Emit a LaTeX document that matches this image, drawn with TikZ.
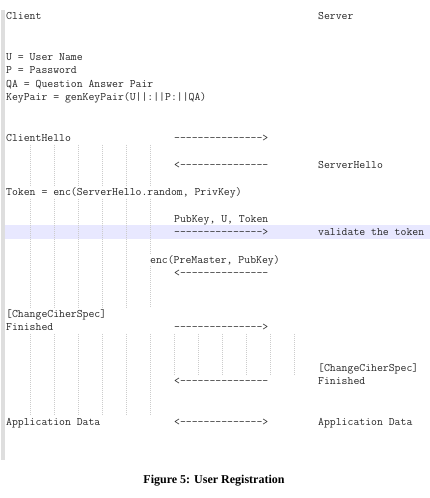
\documentclass[tikz,border=0pt]{standalone}
\usepackage{fontspec}
\setmainfont{Liberation Serif}
\begin{document}
\begin{tikzpicture}[x=1pt,y=-1pt,
  txt/.style={anchor=base west,inner sep=0pt,font=\ttfamily\fontsize{11.43}{13}\selectfont,text=black!85},
  guide/.style={draw=black!20,line width=0.5pt,dash pattern=on 1pt off 1pt},
  band/.style={fill=blue!9,draw=none},
  bar/.style={fill=black!13,draw=none}]
\useasboundingbox (0,0) rectangle (430,498);
\def\LH{13.53}
% left bar and highlighted line
\path[bar] (1,10) rectangle (4.5,460);
\path[band] (5,{16+\LH*16-7}) rectangle (430,{16+\LH*16+7});
% indent guides
\foreach \c in {4,8,12,16,20,24} {
  \draw[guide] ({6+6*\c},{16+\LH*10-6.75}) -- ({6+6*\c},{16+\LH*12+6.75});
  \draw[guide] ({6+6*\c},{16+\LH*24-6.75}) -- ({6+6*\c},{16+\LH*29+6.75});
}
\foreach \c in {4,8,12,16,20} {
  \draw[guide] ({6+6*\c},{16+\LH*14-6.75}) -- ({6+6*\c},{16+\LH*21+6.75});
}
\draw[guide] (150,{16+\LH*14-6.75}) -- (150,{16+\LH*17+6.75});
\draw[guide] (150,{16+\LH*19-6.75}) -- (150,{16+\LH*21+6.75});
\foreach \c in {28,32,36,40,44,48} {
  \draw[guide] ({6+6*\c},{16+\LH*24-6.75}) -- ({6+6*\c},{16+\LH*26+6.75});
}
% text lines
\node[txt] (client) at (6,{19.5+\LH*0}) {Client};
\node[txt] (server) at (318,{19.5+\LH*0}) {Server};
\node[txt] (u) at (6,{19.5+\LH*3}) {U = User Name};
\node[txt] (p) at (6,{19.5+\LH*4}) {P = Password};
\node[txt] (qa) at (6,{19.5+\LH*5}) {QA = Question Answer Pair};
\node[txt] (kp) at (6,{19.5+\LH*6}) {KeyPair = genKeyPair(U||:||P:||QA)};
\node[txt] (ch) at (6,{19.5+\LH*9}) {ClientHello};
\node[txt] (a1) at (174,{19.5+\LH*9}) {--------------->};
\node[txt] (a2) at (174,{19.5+\LH*11}) {<---------------};
\node[txt] (sh) at (318,{19.5+\LH*11}) {ServerHello};
\node[txt] (tok) at (6,{19.5+\LH*13}) {Token = enc(ServerHello.random, PrivKey)};
\node[txt] (pk) at (174,{19.5+\LH*15}) {PubKey, U, Token};
\node[txt] (a3) at (174,{19.5+\LH*16}) {--------------->};
\node[txt] (val) at (318,{19.5+\LH*16}) {validate the token};
\node[txt] (enc) at (150,{19.5+\LH*18}) {enc(PreMaster, PubKey)};
\node[txt] (a4) at (174,{19.5+\LH*19}) {<---------------};
\node[txt] (ccs1) at (6,{19.5+\LH*22}) {[ChangeCiherSpec]};
\node[txt] (fin1) at (6,{19.5+\LH*23}) {Finished};
\node[txt] (a5) at (174,{19.5+\LH*23}) {--------------->};
\node[txt] (ccs2) at (318,{19.5+\LH*26}) {[ChangeCiherSpec]};
\node[txt] (a6) at (174,{19.5+\LH*27}) {<---------------};
\node[txt] (fin2) at (318,{19.5+\LH*27}) {Finished};
\node[txt] (ad1) at (6,{19.5+\LH*30}) {Application Data};
\node[txt] (a7) at (174,{19.5+\LH*30}) {<-------------->};
\node[txt] (ad2) at (318,{19.5+\LH*30}) {Application Data};
% caption
\node[inner sep=0pt,font=\bfseries\fontsize{12}{14}\selectfont] (cap) at (214,481) {Figure 5: User Registration};
\end{tikzpicture}
\end{document}
